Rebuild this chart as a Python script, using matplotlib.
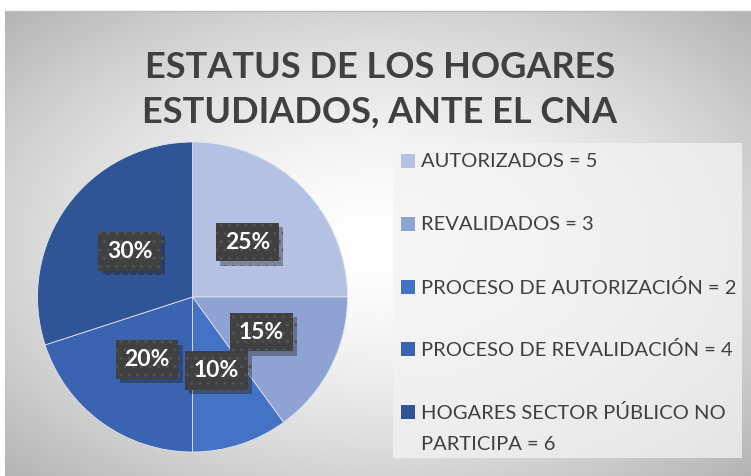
import numpy as np
import matplotlib.pyplot as plt
from matplotlib.patches import Rectangle
import matplotlib.patheffects as pe

# ================================
# DATA
# ================================
categories = ['AUTORIZADOS', 'REVALIDADOS', 'PROCESO DE AUTORIZACIÓN',
              'PROCESO DE REVALIDACIÓN', 'HOGARES SECTOR PÚBLICO NO\nPARTICIPA']
values = [5, 3, 2, 4, 6]
colors = ['#b4c1e3', '#8fa2d4', '#4472c4', '#3a63b2', '#2f5597']
title = 'ESTATUS DE LOS HOGARES\nESTUDIADOS, ANTE EL CNA'

W, H = 751, 476
plt.rcParams['font.family'] = ['Lato', 'DejaVu Sans']
fig = plt.figure(figsize=(W / 100, H / 100), dpi=100)
fig.patch.set_facecolor('white')

# ================================
# BACKGROUND (radial gradient)
# ================================
x0, y0 = 5, 11
bg = fig.add_axes([x0 / W, 0, 1 - x0 / W, (H - y0) / H])
bg.set_axis_off()
yy, xx = np.mgrid[0:1:300j, 0:1:500j]
r = np.sqrt(((xx - 0.5) / 0.62) ** 2 + ((yy - 0.5) / 0.62) ** 2)
shade = 1 - 0.24 * np.clip(r, 0, 1.2) ** 1.6
bg.imshow(np.dstack([shade] * 3), aspect='auto', extent=[0, 1, 0, 1],
          interpolation='bilinear')
bg.set_xlim(0, 1)
bg.set_ylim(0, 1)
fig.add_artist(plt.Line2D([x0 / W, 1], [(H - y0) / H] * 2, color='#bdbdbd', lw=1))

# ================================
# TITLE
# ================================
fig.text(380 / W, (H - 90) / H, title, ha='center', va='center',
         fontsize=26, fontweight='bold', color='#404040', linespacing=1.45)

# ================================
# PIE
# ================================
cx, cy, R = 192.5, 297, 155
ax = fig.add_axes([(cx - R) / W, (H - cy - R) / H, 2 * R / W, 2 * R / H])
wedges, texts, autotexts = ax.pie(
    values, colors=colors, startangle=90, counterclock=False,
    autopct='%1.0f%%', pctdistance=0.5, radius=1,
    wedgeprops=dict(linewidth=0.6, edgecolor='#dfe4f0'),
    textprops=dict(color='white', fontsize=16.5, fontweight='bold'))
ax.set_xlim(-1, 1)
ax.set_ylim(-1, 1)
for t in autotexts:
    t.set_bbox(dict(boxstyle='square,pad=0.38', facecolor='#404040',
                    edgecolor='#525252', linewidth=0, hatch='..'))
    t.get_bbox_patch().set_path_effects(
        [pe.SimplePatchShadow(offset=(3, -3), alpha=0.35), pe.Normal()])

# ================================
# LEGEND (drawn manually)
# ================================
fig.add_artist(Rectangle((393 / W, (H - 458) / H), (742 - 393) / W, (458 - 143) / H,
                         transform=fig.transFigure, facecolor='#f3f3f3',
                         edgecolor='none', alpha=0.75))
row_y = [161, 224, 287, 349, 412]
for cat, val, col, ry in zip(categories, values, colors, row_y):
    fig.add_artist(Rectangle((401 / W, (H - ry - 7) / H), 14 / W, 14 / H,
                             transform=fig.transFigure, facecolor=col,
                             edgecolor='none'))
    fig.text(421 / W, (H - ry + 8) / H, f'{cat} = {val}', ha='left', va='top',
             fontsize=14.5, color='#404040', linespacing=2.0)

fig.savefig('out.png', dpi=100)
